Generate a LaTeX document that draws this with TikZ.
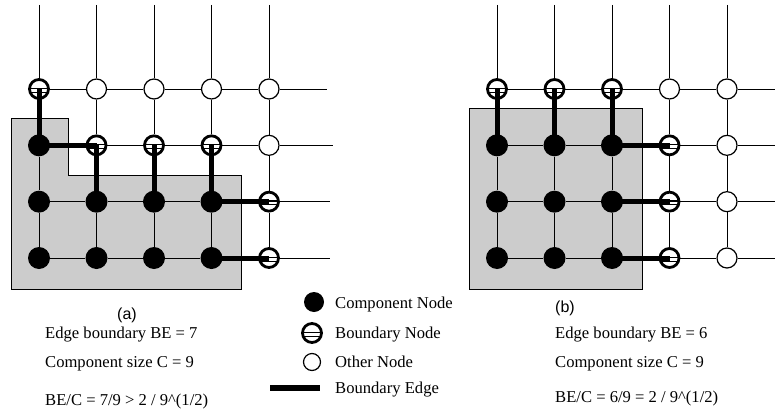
\documentclass[tikz,border=0pt]{standalone}
\usepackage{fontspec}
\setmainfont{Liberation Serif}
\newfontfamily\capfont{Liberation Sans}
\definecolor{shadegray}{RGB}{204,204,204}
\pgfdeclarelayer{shade}
\pgfdeclarelayer{grid}
\pgfsetlayers{shade,grid,main}
\tikzset{
  nd-c/.style={circle, fill=black, minimum size=22pt, inner sep=0pt},
  nd-o/.style={circle, draw=black, line width=1.2pt, fill=white, minimum size=20pt, inner sep=0pt},
  nd-b/.style={circle, draw=black, line width=2.8pt, fill=white, minimum size=19pt, inner sep=0pt,
    path picture={
      \draw[line width=1.3pt] ([yshift=0.8pt]path picture bounding box.west) -- ([yshift=0.8pt]path picture bounding box.east);
      \draw[line width=0.9pt] ([yshift=-3.2pt]path picture bounding box.west) -- ([yshift=-3.2pt]path picture bounding box.east);
    }},
  gridline/.style={line width=1pt},
  bedge/.style={line width=5pt},
  comparea/.style={fill=shadegray, draw=black, line width=0.9pt},
  lbl/.style={anchor=base west, inner sep=0pt, font=\fontsize{16.6}{20}\selectfont},
  caption/.style={anchor=base, inner sep=0pt, font=\capfont\fontsize{16}{19}\selectfont},
}
\begin{document}
\begin{tikzpicture}[x=1pt,y=-1pt]
\useasboundingbox (0,0) rectangle (775,412);

% shaded components
\begin{pgfonlayer}{shade}
  \path[comparea] (11,118) -- (68,118) -- (68,175) -- (241,175) -- (241,289) -- (11,289) -- cycle;
  \path[comparea] (469,108) rectangle (642,289);
\end{pgfonlayer}

% grid (a)
\foreach \row [count=\r] in {{b,o,o,o,o},{c,b,b,b,o},{c,c,c,c,b},{c,c,c,c,b}}
  \foreach \t [count=\c] in \row
    \node[nd-\t] (A-\r-\c) at ({39+57.5*(\c-1)}, {89+169/3*(\r-1)}) {};

% grid (b)
\foreach \row [count=\r] in {{b,b,b,o,o},{c,c,c,b,o},{c,c,c,b,o},{c,c,c,b,o}}
  \foreach \t [count=\c] in \row
    \node[nd-\t] (B-\r-\c) at ({497+57.5*(\c-1)}, {89+169/3*(\r-1)}) {};

% thin grid edges
\begin{pgfonlayer}{grid}
  \foreach \c in {1,...,5} {
    \coordinate (A-top-\c) at ({39+57.5*(\c-1)},5);
    \draw[gridline] (A-top-\c) -- (A-1-\c) -- (A-2-\c) -- (A-3-\c) -- (A-4-\c);
    \coordinate (B-top-\c) at ({497+57.5*(\c-1)},5);
    \draw[gridline] (B-top-\c) -- (B-1-\c) -- (B-2-\c) -- (B-3-\c) -- (B-4-\c);
  }
  \foreach \r/\e in {1/327,2/333,3/330,4/330} {
    \coordinate (A-end-\r) at (\e, {89+169/3*(\r-1)});
    \draw[gridline] (A-\r-1) -- (A-\r-2) -- (A-\r-3) -- (A-\r-4) -- (A-\r-5) -- (A-end-\r);
    \coordinate (B-end-\r) at (775, {89+169/3*(\r-1)});
    \draw[gridline] (B-\r-1) -- (B-\r-2) -- (B-\r-3) -- (B-\r-4) -- (B-\r-5) -- (B-end-\r);
  }
\end{pgfonlayer}

% boundary edges (a)
\foreach \p/\q in {2-1/1-1, 2-1/2-2, 3-2/2-2, 3-3/2-3, 3-4/2-4, 3-4/3-5, 4-4/4-5}
  \draw[bedge] (A-\p.center) -- (A-\q.center);

% boundary edges (b)
\foreach \p/\q in {2-1/1-1, 2-2/1-2, 2-3/1-3, 2-3/2-4, 3-3/3-4, 4-3/4-4}
  \draw[bedge] (B-\p.center) -- (B-\q.center);

% captions and figures
\node[caption] (capA) at (127,319) {(a)};
\node[caption] (capB) at (565,312) {(b)};

\node[lbl] (A-be) at (45,338) {Edge boundary BE = 7};
\node[lbl] (A-cs) at (45,367) {Component size C = 9};
\node[lbl] (A-ra) at (45,405) {BE/C = 7/9 > 2 / 9\textasciicircum(1/2)};

\node[lbl] (B-be) at (555,338) {Edge boundary BE = 6};
\node[lbl] (B-cs) at (555,367) {Component size C = 9};
\node[lbl] (B-ra) at (555,402) {BE/C = 6/9 = 2 / 9\textasciicircum(1/2)};

% legend
\node[nd-c, minimum size=20pt] (L-c) at (314,302) {};
\node[lbl] (L-ct) at (335,308) {Component Node};
\node[nd-b] (L-b) at (312,333) {};
\node[lbl] (L-bt) at (335,338) {Boundary Node};
\node[nd-o, minimum size=17pt] (L-o) at (312,362) {};
\node[lbl] (L-ot) at (335,367) {Other Node};
\coordinate (L-e1) at (270,388);
\coordinate (L-e2) at (320,388);
\draw[bedge, line width=5.5pt] (L-e1) -- (L-e2);
\node[lbl] (L-et) at (335,393) {Boundary Edge};
\end{tikzpicture}
\end{document}
